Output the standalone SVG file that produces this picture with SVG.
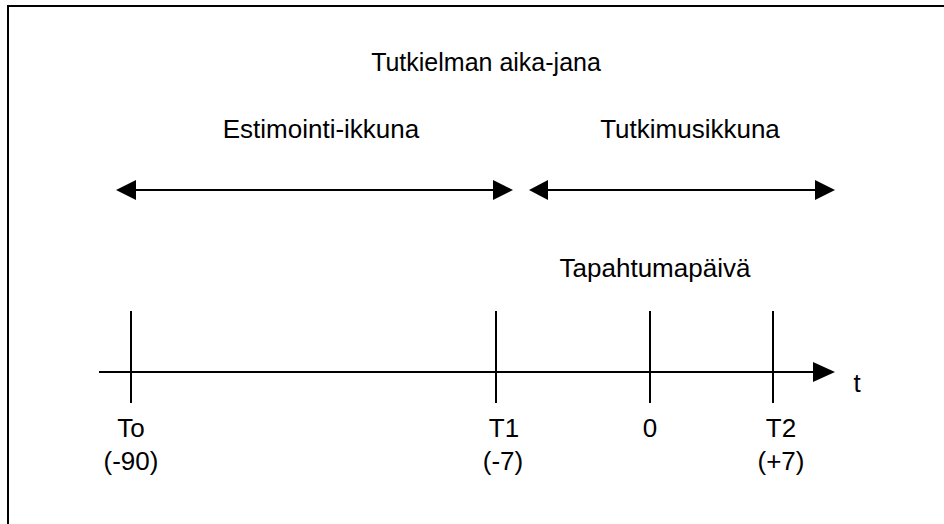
<svg xmlns="http://www.w3.org/2000/svg" width="944" height="524" viewBox="0 0 944 524">
  <style>
    .lbl { font-family: "Liberation Sans", Arial, sans-serif; font-size: 26px; fill: #000; text-anchor: middle; }
    .ttl { font-size: 25px; }
    .ln { stroke: #000; stroke-width: 2; fill: none; }
    .head { fill: #000; }
  </style>
  <rect width="944" height="524" fill="#fff"/>
  <!-- outer frame, right and bottom edges run off the page -->
  <rect x="8" y="6" width="960" height="540" fill="none" stroke="#000" stroke-width="2"/>

  <g id="title"><text class="lbl ttl" x="486" y="71">Tutkielman aika-jana</text></g>

  <g id="window-labels">
    <text class="lbl" x="321" y="138">Estimointi-ikkuna</text>
    <text class="lbl" x="690" y="138">Tutkimusikkuna</text>
    <text class="lbl" x="655" y="277">Tapahtumapäivä</text>
  </g>

  <g id="connectors">
    <!-- estimation window span -->
    <line class="ln" x1="134" y1="190" x2="495" y2="190"/>
    <polygon class="head" points="116,190 136,180 136,200"/>
    <polygon class="head" points="513,190 493,180 493,200"/>
    <!-- event window span -->
    <line class="ln" x1="546" y1="190" x2="817" y2="190"/>
    <polygon class="head" points="529,190 548,180 548,200"/>
    <polygon class="head" points="835,190 815,180 815,200"/>
    <!-- time axis -->
    <line class="ln" x1="99" y1="372" x2="815" y2="372"/>
    <polygon class="head" points="835,372 813,362 813,382"/>
    <!-- ticks -->
    <line class="ln" x1="131" y1="311" x2="131" y2="403"/>
    <line class="ln" x1="496" y1="311" x2="496" y2="403"/>
    <line class="ln" x1="650" y1="311" x2="650" y2="403"/>
    <line class="ln" x1="773" y1="311" x2="773" y2="403"/>
  </g>

  <g id="axis-label"><text class="lbl" x="857" y="392">t</text></g>

  <g id="tick-T0">
    <text class="lbl" x="131" y="437">To</text>
    <text class="lbl" x="131" y="470">(-90)</text>
  </g>
  <g id="tick-T1">
    <text class="lbl" x="504" y="437">T1</text>
    <text class="lbl" x="503" y="470">(-7)</text>
  </g>
  <g id="tick-0">
    <text class="lbl" x="650" y="437">0</text>
  </g>
  <g id="tick-T2">
    <text class="lbl" x="781" y="437">T2</text>
    <text class="lbl" x="781" y="470">(+7)</text>
  </g>
</svg>
